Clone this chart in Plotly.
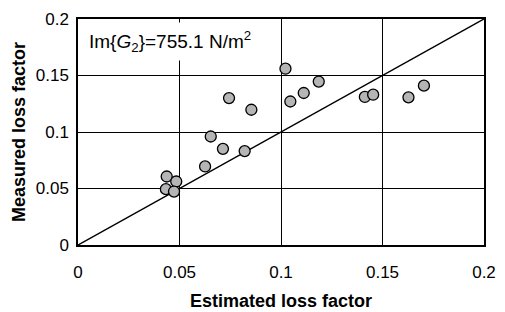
import plotly.graph_objects as go

estimated = [0.0437, 0.0484, 0.0433, 0.0473, 0.0626, 0.0654, 0.0714, 0.0821, 0.0744, 0.0854,
             0.1022, 0.1046, 0.1112, 0.1186, 0.1413, 0.1454, 0.1628, 0.1704]
measured = [0.0606, 0.0562, 0.0494, 0.0473, 0.0695, 0.0960, 0.0851, 0.0831, 0.1300, 0.1197,
            0.1560, 0.1270, 0.1345, 0.1446, 0.1310, 0.1330, 0.1307, 0.1410]
ref_line = [0, 0.2]
tick_vals = [0, 0.05, 0.1, 0.15, 0.2]
tick_text = ["0", "0.05", "0.1", "0.15", "0.2"]

fig = go.Figure()
fig.add_trace(go.Scatter(x=ref_line, y=ref_line, mode="lines",
                         line=dict(color="black", width=1.5), showlegend=False, hoverinfo="skip"))
fig.add_trace(go.Scatter(x=estimated, y=measured, mode="markers",
                         marker=dict(size=11, color="#b5b5b8", line=dict(color="black", width=1.3)),
                         showlegend=False))

font = "Liberation Sans, Arial, sans-serif"
fig.update_layout(
    width=505, height=312,
    margin=dict(l=78, r=21, t=19, b=67, autoexpand=False),
    plot_bgcolor="white", paper_bgcolor="white",
    font=dict(family=font, color="black", size=17),
    xaxis=dict(range=[0, 0.2], tickvals=tick_vals, ticktext=tick_text,
               showgrid=True, gridcolor="black", gridwidth=1.2,
               showline=True, linecolor="black", linewidth=1.5, mirror=True,
               zeroline=False, ticks="", ticklabelstandoff=11, automargin=False,
               tickfont=dict(size=17),
               title=dict(text="<b>Estimated loss factor</b>", font=dict(size=18), standoff=13)),
    yaxis=dict(range=[0, 0.2], tickvals=tick_vals, ticktext=tick_text,
               showgrid=True, gridcolor="black", gridwidth=1.2,
               showline=True, linecolor="black", linewidth=1.5, mirror=True,
               zeroline=False, ticks="", ticklabelstandoff=4, automargin=False,
               tickfont=dict(size=17),
               title=dict(text="<b>Measured loss factor</b>", font=dict(size=18), standoff=5)),
    annotations=[dict(
        text="Im{<i>G</i><sub>2</sub>}=755.1 N/m<sup>2</sup>",
        xref="paper", yref="paper", x=0.013, y=0.985, xanchor="left", yanchor="top",
        showarrow=False, bgcolor="white", borderpad=5,
        font=dict(size=19, family=font))]
)

fig.write_html("out.html", config={"displayModeBar": False},
               post_script="document.body.style.margin='0px';")
